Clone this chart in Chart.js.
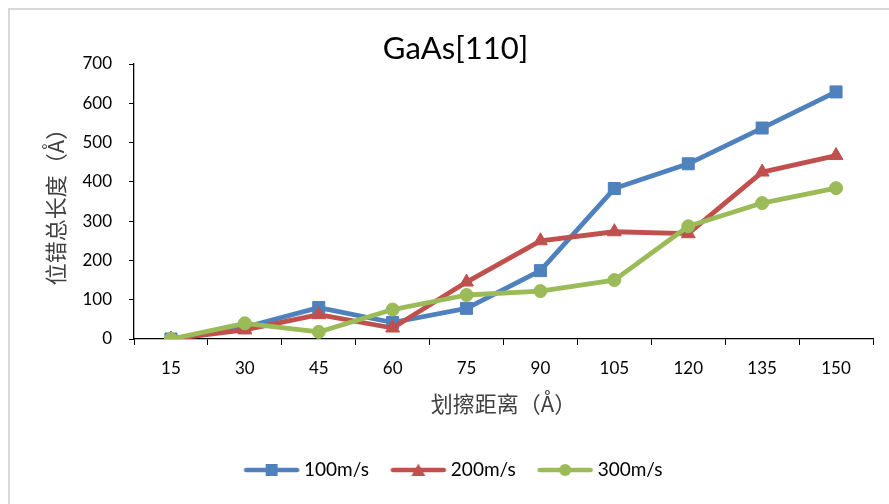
<!DOCTYPE html>
<html>
<head>
<meta charset="utf-8">
<script src="https://cdn.jsdelivr.net/npm/chart.js@4/dist/chart.umd.min.js"></script>
<style>
  html, body { margin: 0; padding: 0; background: #ffffff; }
  #wrap { width: 889px; height: 504px; position: relative; }
</style>
</head>
<body>
<div id="wrap"><canvas id="chart" width="889" height="504"></canvas></div>
<script>
// Scratch distance (Å) on the x axis
const categories = ['15', '30', '45', '60', '75', '90', '105', '120', '135', '150'];

// Total dislocation length (Å) for each scratch speed
const speed100 = [0, 30, 80, 42, 78, 174, 383, 446, 537, 629];
const speed200 = [0, 23, 62, 28, 145, 250, 273, 268, 425, 467];
const speed300 = [0, 40, 18, 75, 112, 122, 150, 287, 346, 384];

const seriesNames = ['100m/s', '200m/s', '300m/s'];
const yTicks = [0, 100, 200, 300, 400, 500, 600, 700];

const BLUE = '#4F81BD';
const RED = '#C0504D';
const GREEN = '#9BBB59';

// Small line-plus-marker icon for the legend
function legendIcon(color, marker) {
  const c = document.createElement('canvas');
  c.width = 60; c.height = 16;
  const g = c.getContext('2d');
  const cx = 30, cy = 8;
  g.strokeStyle = color;
  g.fillStyle = color;
  g.lineWidth = 4.5;
  g.lineCap = 'round';
  g.beginPath();
  g.moveTo(4.5, cy); g.lineTo(55.5, cy);
  g.stroke();
  g.beginPath();
  if (marker === 'rect') {
    g.rect(cx - 6, cy - 6, 12, 12);
  } else if (marker === 'triangle') {
    g.moveTo(cx, 1.5); g.lineTo(cx + 7, 14); g.lineTo(cx - 7, 14); g.closePath();
  } else {
    g.arc(cx, cy, 6, 0, Math.PI * 2);
  }
  g.fill();
  return c;
}

const icons = [legendIcon(BLUE, 'rect'), legendIcon(RED, 'triangle'), legendIcon(GREEN, 'circle')];

// Light frame around the whole chart area
const framePlugin = {
  id: 'frame',
  beforeDraw(chart) {
    const ctx = chart.ctx;
    ctx.save();
    ctx.fillStyle = '#ffffff';
    ctx.fillRect(0, 0, chart.width, chart.height);
    ctx.strokeStyle = '#d9d9d9';
    ctx.lineWidth = 2;
    ctx.strokeRect(9, 9, chart.width + 20, chart.height + 20);
    ctx.restore();
  }
};

function lineDataset(label, data, color, pointStyle, radius, order) {
  return {
    label: label,
    data: data,
    borderColor: color,
    backgroundColor: color,
    borderWidth: 4.8,
    borderJoinStyle: 'round',
    borderCapStyle: 'round',
    pointStyle: pointStyle,
    pointRadius: radius,
    pointHoverRadius: radius,
    pointBackgroundColor: color,
    pointBorderColor: color,
    pointBorderWidth: 1,
    tension: 0,
    order: order
  };
}

new Chart(document.getElementById('chart'), {
  type: 'line',
  data: {
    labels: categories,
    datasets: [
      lineDataset(seriesNames[0], speed100, BLUE, 'rect', 8.5, 3),
      lineDataset(seriesNames[1], speed200, RED, 'triangle', 8, 2),
      lineDataset(seriesNames[2], speed300, GREEN, 'circle', 6.5, 1)
    ]
  },
  options: {
    responsive: false,
    animation: false,
    events: [],
    layout: { padding: { left: 38, right: 16, top: 8, bottom: 14.5 } },
    plugins: {
      tooltip: { enabled: false },
      title: {
        display: true,
        text: 'GaAs[110]',
        color: '#000000',
        font: { family: 'Lato', size: 31, weight: 'normal', lineHeight: 1 },
        padding: { top: 25, bottom: 0 }
      },
      legend: {
        display: true,
        position: 'bottom',
        labels: {
          usePointStyle: true,
          pointStyleWidth: 46,
          boxHeight: 16,
          padding: 26.5,
          color: '#000000',
          font: { family: 'Lato', size: 19 },
          generateLabels(chart) {
            return [0, 1, 2].map(i => ({
              text: chart.data.datasets[i].label,
              pointStyle: icons[i],
              fillStyle: chart.data.datasets[i].borderColor,
              strokeStyle: chart.data.datasets[i].borderColor,
              lineWidth: 0,
              hidden: false,
              datasetIndex: i
            }));
          }
        }
      }
    },
    scales: {
      x: {
        type: 'category',
        offset: true,
        afterFit(scale) { scale.height = 95; },
        grid: {
          display: true,
          offset: true,
          drawOnChartArea: false,
          drawTicks: true,
          tickLength: 6,
          color: '#000000',
          lineWidth: 1
        },
        border: { display: true, color: '#000000', width: 1.3 },
        ticks: {
          color: '#000000',
          padding: 13,
          maxRotation: 0,
          font: { family: 'Lato', size: 17 }
        },
        title: {
          display: true,
          text: '划擦距离（Å）',
          color: '#404040',
          font: { family: 'Noto Sans CJK SC', size: 22, weight: 'normal' },
          padding: { top: 4, bottom: 17 }
        }
      },
      y: {
        min: yTicks[0],
        max: yTicks[yTicks.length - 1],
        afterFit(scale) { scale.width = 96; },
        afterBuildTicks(scale) { scale.ticks = yTicks.map(v => ({ value: v })); },
        grid: {
          display: true,
          drawOnChartArea: false,
          drawTicks: true,
          tickLength: 5,
          color: '#000000',
          lineWidth: 1
        },
        border: { display: true, color: '#000000', width: 1.3 },
        ticks: {
          color: '#000000',
          padding: 17,
          font: { family: 'Lato', size: 17 }
        },
        title: {
          display: true,
          text: '位错总长度（Å）',
          color: '#404040',
          font: { family: 'Noto Sans CJK SC', size: 22, weight: 'normal' },
          padding: { top: 4, bottom: 0 }
        }
      }
    }
  },
  plugins: [framePlugin]
});
</script>
</body>
</html>
